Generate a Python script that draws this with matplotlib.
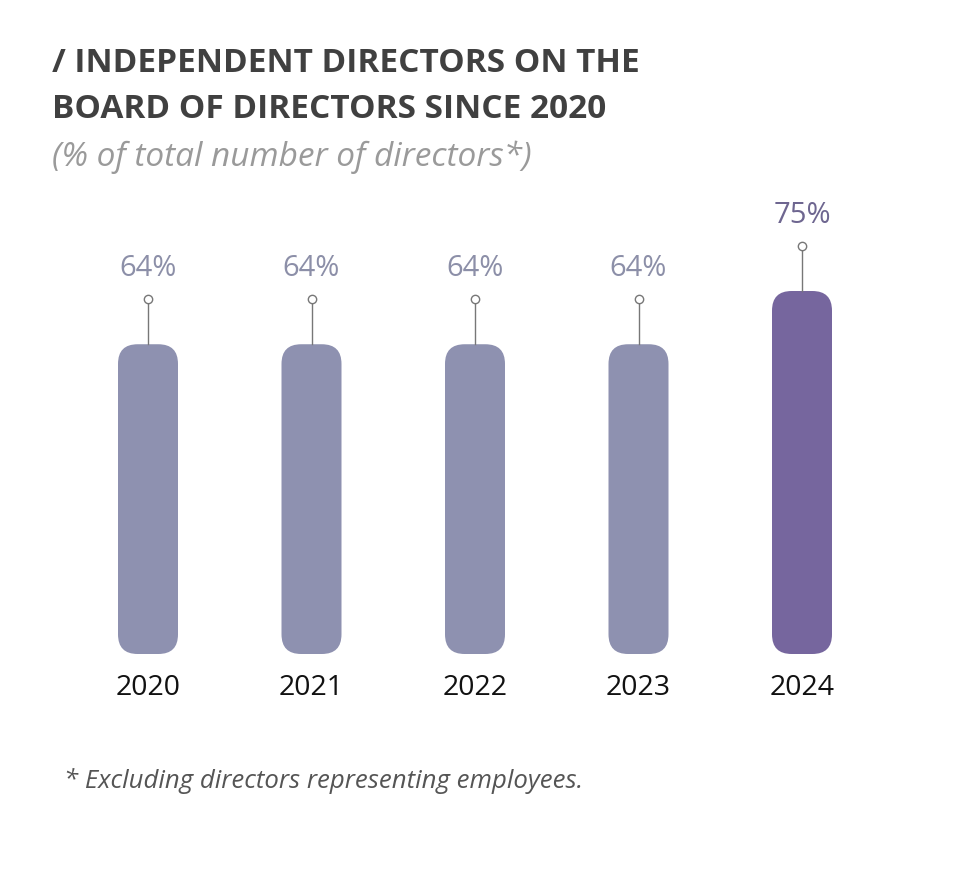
import matplotlib
matplotlib.use("Agg")
import matplotlib.pyplot as plt
from matplotlib.patches import FancyBboxPatch

years = ["2020", "2021", "2022", "2023", "2024"]
values = [64, 64, 64, 64, 75]
bar_colors = ["#8E91B0", "#8E91B0", "#8E91B0", "#8E91B0", "#76669E"]
label_colors = ["#8C8FA8", "#8C8FA8", "#8C8FA8", "#8C8FA8", "#6E6690"]

W, H = 959, 887
fig = plt.figure(figsize=(W / 100, H / 100), dpi=100)

# layout in pixels
x0, dx = 148, 163.5          # first bar centre, spacing
base_y, px_per_pct = 655, 4.84
ax = fig.add_axes([0, (H - base_y) / H, 1, 100 * px_per_pct / H])
ax.set_xlim(-x0 / dx, (W - x0) / dx)
ax.set_ylim(0, 100)
ax.axis("off")

bw = 60 / dx
aspect = (1 / px_per_pct) / (1 / dx)
stem = 45 / px_per_pct
for i, (v, c, lc) in enumerate(zip(values, bar_colors, label_colors)):
    ax.add_patch(FancyBboxPatch((i - bw / 2, 0), bw, v,
                                boxstyle="round,pad=0,rounding_size=0.12",
                                mutation_aspect=aspect, fc=c, ec="none"))
    ax.plot([i, i], [v, v + stem], color="#777777", lw=1)
    ax.plot(i, v + stem, "o", ms=6, mfc="white", mec="#777777", mew=1)
    ax.text(i, v + stem + 3.5, f"{v}%", ha="center", va="bottom",
            fontsize=21, color=lc, family="Open Sans")
    ax.text(i, -4, years[i], ha="center", va="top", fontsize=20.5,
            color="#111111", family="Open Sans")

fig.text(52 / W, 1 - 64 / H, "/ INDEPENDENT DIRECTORS ON THE", fontsize=24,
         fontweight="bold", color="#404040", family="Open Sans", va="center")
fig.text(52 / W, 1 - 110 / H, "BOARD OF DIRECTORS SINCE 2020", fontsize=24,
         fontweight="bold", color="#404040", family="Open Sans", va="center")
fig.text(52 / W, 1 - 157 / H, "(% of total number of directors*)", fontsize=24,
         style="italic", color="#9A9A9A", family="Open Sans", va="center")
fig.text(64 / W, 1 - 781 / H, "* Excluding directors representing employees.",
         fontsize=18.5, style="italic", color="#555555", family="Open Sans", va="center")

fig.savefig("out.png", dpi=100, facecolor="white")
